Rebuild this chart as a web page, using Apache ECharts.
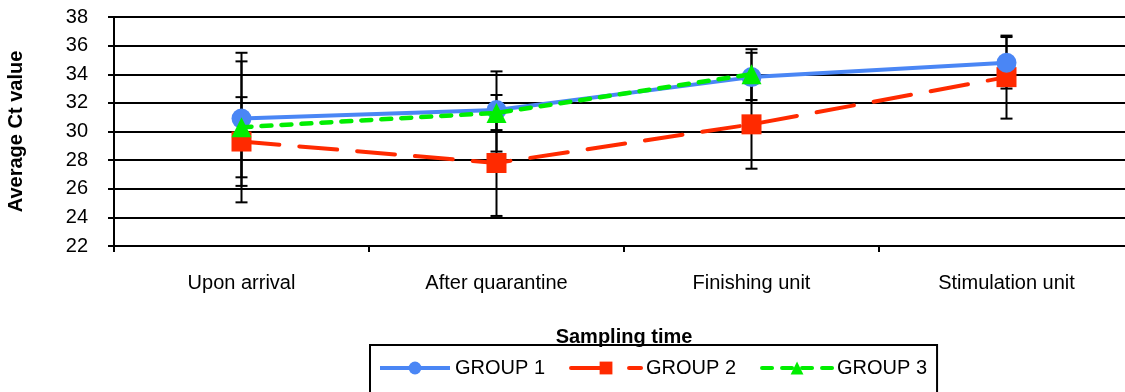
<!DOCTYPE html>
<html>
<head>
<meta charset="utf-8">
<script src="https://cdn.jsdelivr.net/npm/echarts@6/dist/echarts.min.js"></script>
<style>
html,body{margin:0;padding:0;background:#fff;overflow:hidden;}
#c{width:1125px;height:392px;}
</style>
</head>
<body>
<div id="c"></div>
<script>
const categories = ['Upon arrival', 'After quarantine', 'Finishing unit', 'Stimulation unit'];
const seriesNames = ['GROUP 1', 'GROUP 2', 'GROUP 3'];
const group1 = [30.9, 31.5, 33.8, 34.8];
const group2 = [29.3, 27.8, 30.5, 33.8];
const group3 = [30.3, 31.3, 34.0, null];
const group1Low = [26.2, 28.6, 32.0, 33.0];
const group1High = [35.5, 34.2, 35.5, 36.6];
const group2Low = [26.8, 24.1, 27.4, 30.9];
const group2High = [32.4, 31.5, 33.6, 36.7];
const group3Low = [25.05, 30.1, 32.2, null];
const group3High = [34.9, 32.55, 35.75, null];
const yTicks = {min: 22, max: 38, interval: 2};

const FONT = 'Liberation Sans, Arial, sans-serif';
const colors = ['#4a86f5', '#ff2a00', '#00ee00'];

function errData(low, high) {
  const out = [];
  for (let i = 0; i < low.length; i++) {
    if (low[i] != null && high[i] != null) out.push([i, low[i], high[i]]);
  }
  return out;
}

function renderErr(params, api) {
  const x = api.value(0);
  const lo = api.coord([x, api.value(1)]);
  const hi = api.coord([x, api.value(2)]);
  const w = 6;
  const st = {stroke: '#000', lineWidth: 2};
  return {
    type: 'group',
    children: [
      {type: 'line', shape: {x1: lo[0], y1: lo[1], x2: hi[0], y2: hi[1]}, style: st},
      {type: 'line', shape: {x1: lo[0] - w, y1: lo[1], x2: lo[0] + w, y2: lo[1]}, style: st},
      {type: 'line', shape: {x1: hi[0] - w, y1: hi[1], x2: hi[0] + w, y2: hi[1]}, style: st}
    ]
  };
}

const chart = echarts.init(document.getElementById('c'), null, {renderer: 'canvas'});
const option = {
  animation: false,
  backgroundColor: '#fff',
  grid: {left: 114, width: 1020, top: 17, bottom: 146, outerBoundsMode: 'none', containLabel: false},
  legend: {
    data: seriesNames,
    left: 370,
    top: 345,
    orient: 'horizontal',
    itemWidth: 70,
    itemHeight: 16,
    itemGap: 24,
    padding: [13, 10, 40, 8],
    borderColor: '#000',
    borderWidth: 2,
    lineStyle: {width: 4},
    textStyle: {fontFamily: FONT, fontSize: 20, color: '#000'}
  },
  xAxis: {
    type: 'category',
    data: categories,
    boundaryGap: true,
    name: 'Sampling time',
    nameLocation: 'middle',
    nameGap: 81,
    nameTextStyle: {fontFamily: FONT, fontSize: 20, fontWeight: 'bold', color: '#000'},
    axisLine: {lineStyle: {color: '#000', width: 2}},
    axisTick: {show: true, length: 6, lineStyle: {color: '#000', width: 2}},
    axisLabel: {fontFamily: FONT, fontSize: 20, color: '#000', margin: 27},
    splitLine: {show: false}
  },
  yAxis: {
    type: 'value',
    min: yTicks.min,
    max: yTicks.max,
    interval: yTicks.interval,
    name: 'Average Ct value',
    nameLocation: 'middle',
    nameGap: 88,
    nameRotate: 90,
    nameTextStyle: {fontFamily: FONT, fontSize: 20, fontWeight: 'bold', color: '#000'},
    axisLine: {show: true, lineStyle: {color: '#000', width: 2}},
    axisTick: {show: true, length: 6, lineStyle: {color: '#000', width: 2}},
    axisLabel: {fontFamily: FONT, fontSize: 20, color: '#000', margin: 26},
    splitLine: {show: true, lineStyle: {color: '#000', width: 2}}
  },
  series: [
    {
      name: seriesNames[0], type: 'line', data: group1, z: 5,
      symbol: 'circle', symbolSize: 20,
      itemStyle: {color: colors[0]},
      lineStyle: {color: colors[0], width: 4}
    },
    {
      name: seriesNames[1], type: 'line', data: group2, z: 4,
      symbol: 'rect', symbolSize: 20,
      itemStyle: {color: colors[1]},
      lineStyle: {color: colors[1], width: 4, type: [38, 20], cap: 'round'}
    },
    {
      name: seriesNames[2], type: 'line', data: group3, z: 6,
      symbol: 'triangle', symbolSize: 20,
      itemStyle: {color: colors[2]},
      lineStyle: {color: colors[2], width: 4.5, type: [10, 10], cap: 'round'}
    },
    {type: 'custom', name: 'err1', data: errData(group1Low, group1High), renderItem: renderErr, z: 1, silent: true},
    {type: 'custom', name: 'err2', data: errData(group2Low, group2High), renderItem: renderErr, z: 1, silent: true},
    {type: 'custom', name: 'err3', data: errData(group3Low, group3High), renderItem: renderErr, z: 1, silent: true}
  ]
};
chart.setOption(option);
</script>
</body>
</html>
